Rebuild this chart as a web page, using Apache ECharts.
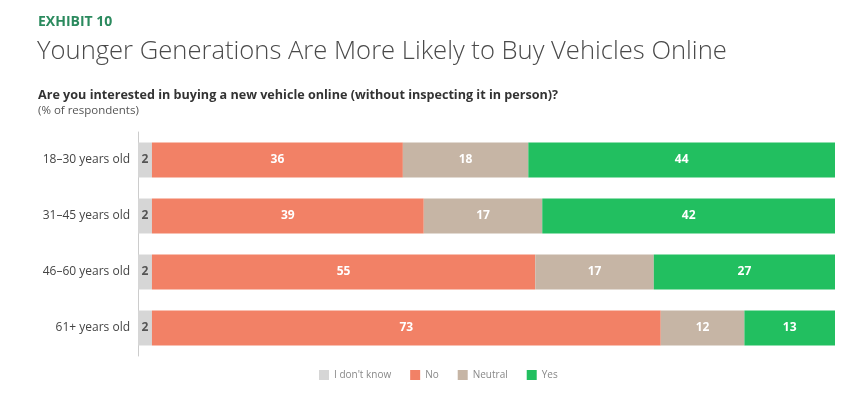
<!DOCTYPE html>
<html><head><meta charset="utf-8">
<script src="https://cdn.jsdelivr.net/npm/echarts@6/dist/echarts.min.js"></script>
<style>html,body{margin:0;padding:0;background:#fff}#c{width:850px;height:394px}</style>
</head><body><div id="c"></div>
<script>
const categories = ['18–30 years old', '31–45 years old', '46–60 years old', '61+ years old'];
const dontKnow = [2, 2, 2, 2];
const no = [36, 39, 55, 73];
const neutral = [18, 17, 17, 12];
const yes = [44, 42, 27, 13];
const seriesNames = ["I don't know", 'No', 'Neutral', 'Yes'];

const FONT = "'Open Sans', sans-serif";
const chart = echarts.init(document.getElementById('c'));
function mk(name, data, color, labelColor) {
  return {
    name, type: 'bar', stack: 'total', data, barWidth: 35,
    itemStyle: { color },
    label: { show: true, position: 'inside', color: labelColor, fontWeight: 'bold', fontSize: 12, fontFamily: FONT },
    emphasis: { disabled: true }
  };
}
chart.setOption({
  animation: false,
  title: [
    { text: 'EXHIBIT 10', left: 38, top: 15, padding: 0, textStyle: { color: '#2b8a5e', fontSize: 14, fontWeight: 'bold', fontFamily: FONT } },
    { text: 'Younger Generations Are More Likely to Buy Vehicles Online', left: 37, top: 39, padding: 0, textStyle: { color: '#4a4a4a', fontSize: 25.6, fontWeight: 300, fontFamily: FONT } },
    { text: 'Are you interested in buying a new vehicle online (without inspecting it in person)?', left: 38, top: 89, padding: 0, textStyle: { color: '#333', fontSize: 12.6, fontWeight: 'bold', fontFamily: FONT } },
    { text: '(% of respondents)', left: 38, top: 105, padding: 0, textStyle: { color: '#555', fontSize: 11.5, fontWeight: 'normal', fontFamily: FONT } }
  ],
  legend: {
    bottom: 9, left: 314, itemWidth: 10, itemHeight: 10, itemGap: 19,
    icon: 'rect',
    textStyle: { color: '#888', fontSize: 10, fontFamily: FONT },
    data: seriesNames
  },
  grid: { left: 138, right: 15, top: 132, bottom: 38, containLabel: false },
  xAxis: { type: 'value', min: 0, max: 100, show: false },
  yAxis: {
    type: 'category', data: categories, inverse: true,
    axisLine: { show: true, lineStyle: { color: '#ccc', width: 1 } },
    axisTick: { show: false },
    axisLabel: { color: '#444', fontSize: 12, fontFamily: FONT, margin: 8 }
  },
  series: [
    mk(seriesNames[0], dontKnow, '#d6d6d6', '#555'),
    mk(seriesNames[1], no, '#f28166', '#fff'),
    mk(seriesNames[2], neutral, '#c6b5a5', '#fff'),
    mk(seriesNames[3], yes, '#22bf60', '#fff')
  ]
});
</script></body></html>
